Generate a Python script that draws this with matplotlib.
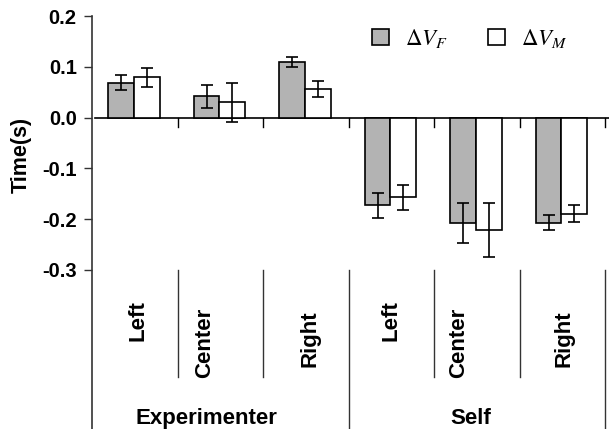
import numpy as np
import matplotlib
matplotlib.use('Agg')
import matplotlib.pyplot as plt

plt.rcParams['font.family'] = ['Liberation Sans', 'DejaVu Sans']
plt.rcParams['mathtext.fontset'] = 'stix'

groups = ['Experimenter', 'Self']
positions = ['Left', 'Center', 'Right']

# mean change in time per condition, with error bar half-widths
dv_f = [0.069, 0.042, 0.109, -0.173, -0.207, -0.207]
dv_f_err = [0.014, 0.023, 0.010, 0.025, 0.039, 0.015]
dv_m = [0.079, 0.030, 0.056, -0.157, -0.221, -0.189]
dv_m_err = [0.018, 0.038, 0.016, 0.024, 0.053, 0.017]

ytick_vals = [-0.3, -0.2, -0.1, 0.0, 0.1, 0.2]
ytick_labels = ['-0.3', '-0.2', '-0.1', '0.0', '0.1', '0.2']

BAR_GRAY = '#b3b3b3'
LINE_COL = '#333333'

fig = plt.figure(figsize=(6.09, 4.29), dpi=100)
ax = fig.add_axes([92 / 609, 0, 513 / 609, 413 / 429])

n = len(dv_f)
x = np.arange(n) + 0.49
w = 0.3

ax.bar(x - w / 2, dv_f, w, color=BAR_GRAY, edgecolor='black', linewidth=1.2,
       label=r'$\Delta V_F$', zorder=3)
ax.bar(x + w / 2, dv_m, w, color='white', edgecolor='black', linewidth=1.2,
       label=r'$\Delta V_M$', zorder=3)
ax.errorbar(x - w / 2, dv_f, yerr=dv_f_err, fmt='none', ecolor='black',
            elinewidth=1.2, capsize=4.5, capthick=1.2, zorder=4)
ax.errorbar(x + w / 2, dv_m, yerr=dv_m_err, fmt='none', ecolor='black',
            elinewidth=1.2, capsize=4.5, capthick=1.2, zorder=4)

ax.set_xlim(0, n)
ax.set_ylim(-0.613, 0.2)

# zero line with small downward ticks at each divider
ax.plot([0.04, n + 0.05], [0, 0], color='black', lw=1.2, clip_on=False, zorder=2)
for i in range(1, n + 1):
    ax.plot([i, i], [0, -0.018], color='black', lw=1.0, clip_on=False, zorder=2)

# category dividers below the plot
for i in range(1, n + 1):
    bottom = -0.613 if i % 3 == 0 else -0.51
    ax.plot([i, i], [-0.3, bottom], color=LINE_COL, lw=1.0, clip_on=False)

label_x = [0.54, 1.32, 2.55, 3.5, 4.29, 5.515]
label_y = [-0.400, -0.444, -0.436]
for i in range(n):
    ax.text(label_x[i], label_y[i % 3], positions[i % 3], rotation=90,
            ha='center', va='center', fontsize=16, fontweight='bold')
for gx, g in zip([1.34, 4.43], groups):
    ax.text(gx, -0.603, g, ha='center', va='baseline', fontsize=16,
            fontweight='bold')

for s in ['top', 'right', 'bottom']:
    ax.spines[s].set_visible(False)
ax.spines['left'].set_color(LINE_COL)
ax.spines['left'].set_linewidth(1.2)
ax.set_xticks([])
ax.set_yticks(ytick_vals)
ax.set_yticklabels(ytick_labels, fontsize=14.5, fontweight='bold')
ax.tick_params(axis='y', length=6, width=1.0, pad=5, color=LINE_COL)

ax.set_ylabel('Time(s)', fontsize=15.5, fontweight='bold')
ax.yaxis.set_label_coords(-0.118, 0.663)

ax.legend(loc='upper left', bbox_to_anchor=(372 / 609, 1 - 27 / 429),
          bbox_transform=fig.transFigure, ncol=2, frameon=False,
          fontsize=16.5, handlelength=0.75, handleheight=0.75,
          handletextpad=0.7, columnspacing=1.75, borderpad=0,
          borderaxespad=0)

fig.savefig('out.png', dpi=100)
